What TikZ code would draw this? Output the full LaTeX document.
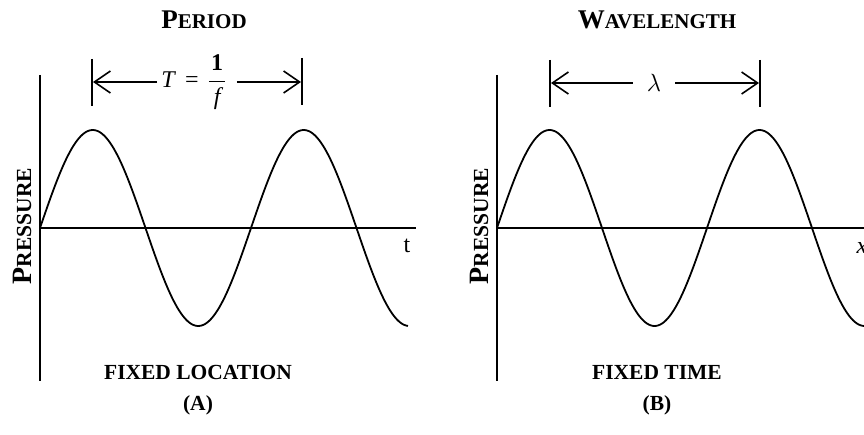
\documentclass[tikz,border=0pt]{standalone}
\usepackage{fontspec}
\setmainfont{Liberation Serif}
\usetikzlibrary{arrows.meta}
\newcommand\myscap[2]{{\fontsize{27}{30}\selectfont #1}{\fontsize{21}{24}\selectfont #2}}
\newcommand\myscapv[2]{{\fontsize{28}{31}\selectfont #1}{\fontsize{21.5}{24}\selectfont #2}}
\begin{document}
\begin{tikzpicture}[x=1pt,y=-1pt,
  axisline/.style={line width=2.6pt},
  waveline/.style={line width=1.8pt},
  barline/.style={line width=1.8pt},
  dimarrow/.style={line width=1.6pt,-{Straight Barb[length=16pt,width=22pt,line width=1.6pt]}},
  titletext/.style={font=\bfseries},
  captext/.style={font=\bfseries\fontsize{21.5}{24}\selectfont},
  lbl/.style={inner sep=2pt}]
\useasboundingbox (0,0) rectangle (864,435);
% ---------- Panel A ----------
\coordinate (Aytop) at (40,75);
\coordinate (Aybot) at (40,381);
\coordinate (Ao) at (40,228);
\coordinate (Axend) at (416,228);
\draw[axisline] (Aytop) -- (Aybot);
\draw[axisline] (Ao) -- (Axend);
\draw[waveline] plot[domain=40:408,samples=200,smooth] (\x,{228-98*sin((\x-40)/211*360)});
\node[titletext] (Atitle) at (204,20) {\myscap{P}{ERIOD}};
\node[rotate=90,font=\bfseries] (Aylab) at (22,226) {\myscapv{P}{RESSURE}};
\node[font=\fontsize{24}{26}\selectfont] (Atlab) at (407,246) {t};
\node[captext] (Acap) at (198,372) {FIXED LOCATION};
\node[captext] (Aletter) at (198,405) {(A)};
\coordinate (ALt) at (92,59); \coordinate (ALb) at (92,106);
\coordinate (ARt) at (302,58); \coordinate (ARb) at (302,105);
\draw[barline] (ALt) -- (ALb);
\draw[barline] (ARt) -- (ARb);
\coordinate (ALm) at (93,82); \coordinate (ARm) at (301,82);
\node[lbl,font=\fontsize{24}{27}\selectfont] (Alab) at (194,82) {\textit{T}\hspace{9pt}=\hspace{9pt}$\displaystyle\frac{\textbf{1}\rule[-3pt]{0pt}{1pt}}{\hspace{5pt}\textit{f}\hspace{5pt}}$};
\draw[dimarrow] ([xshift=-2pt]Alab.west |- ALm) -- (ALm);
\draw[dimarrow] ([xshift=8pt]Alab.east |- ARm) -- (ARm);
% ---------- Panel B ----------
\coordinate (Bytop) at (497,75);
\coordinate (Bybot) at (497,381);
\coordinate (Bo) at (497,228);
\coordinate (Bxend) at (866,228);
\draw[axisline] (Bytop) -- (Bybot);
\draw[axisline] (Bo) -- (Bxend);
\draw[waveline] plot[domain=497:866,samples=200,smooth] (\x,{228-98*sin((\x-497)/210*360)});
\node[titletext] (Btitle) at (657,20) {\myscap{W}{AVELENGTH}};
\node[rotate=90,font=\bfseries] (Bylab) at (479,226) {\myscapv{P}{RESSURE}};
\node[font=\itshape\fontsize{24}{26}\selectfont] (Bxlab) at (862,248) {x};
\node[captext] (Bcap) at (657,372) {FIXED TIME};
\node[captext] (Bletter) at (657,405) {(B)};
\coordinate (BLt) at (550,60); \coordinate (BLb) at (550,107);
\coordinate (BRt) at (760,60); \coordinate (BRb) at (760,107);
\draw[barline] (BLt) -- (BLb);
\draw[barline] (BRt) -- (BRb);
\coordinate (BLm) at (551,83); \coordinate (BRm) at (759,83);
\node[lbl,font=\fontsize{24}{26}\selectfont] (Blab) at (654,83) {$\lambda$};
\draw[dimarrow] ([xshift=-12pt]Blab.west |- BLm) -- (BLm);
\draw[dimarrow] ([xshift=12pt]Blab.east |- BRm) -- (BRm);
\end{tikzpicture}
\end{document}
